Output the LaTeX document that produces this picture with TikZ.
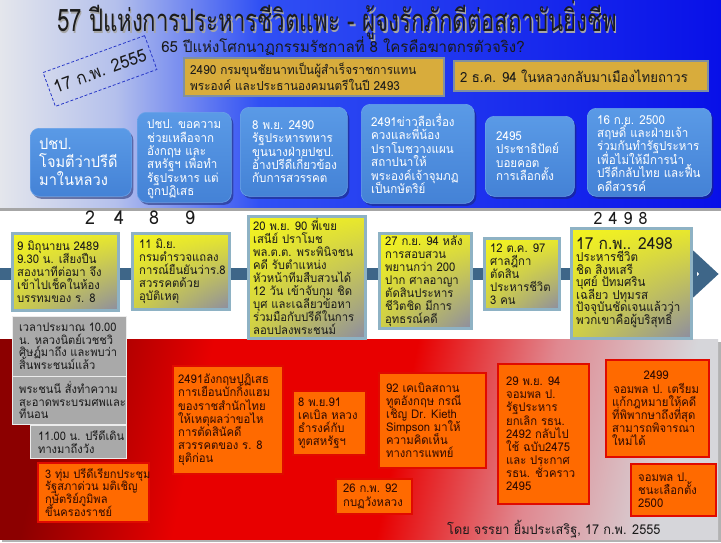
\documentclass[tikz,border=0pt]{standalone}
\usepackage{fontspec}
\setmainfont{Loma}[Script=Thai,FakeStretch=0.94]
\newfontfamily\condfont{Loma}[Script=Thai,FakeStretch=0.715]
\newfontfamily\subfont{Loma}[Script=Thai,FakeStretch=0.98]
\usetikzlibrary{shadings,shadows}

\definecolor{cTopGray}{HTML}{E4E6EC}
\definecolor{cTopLight}{HTML}{B4C0EC}
\definecolor{cTopMid}{HTML}{3050F4}
\definecolor{cTopBlue}{HTML}{0810E8}
\definecolor{cTitle}{HTML}{1C1C1C}
\definecolor{cBlueTop}{HTML}{5A9AE6}
\definecolor{cBlueBot}{HTML}{4482D6}
\definecolor{cBlueEdge}{HTML}{6AA2E8}
\definecolor{cShadow}{HTML}{1A2A70}
\definecolor{cGold}{HTML}{D8AC3C}
\definecolor{cGoldEdge}{HTML}{8090A0}
\definecolor{cYEdge}{HTML}{8EB2C4}
\definecolor{cYTL}{HTML}{F4F41E}
\definecolor{cYTR}{HTML}{E8E82C}
\definecolor{cYBL}{HTML}{CFCF46}
\definecolor{cYBR}{HTML}{8C8CA2}
\definecolor{cLine}{HTML}{3E6688}
\definecolor{cGrayBox}{HTML}{A9A9A9}
\definecolor{cOrange}{HTML}{FF6A00}
\definecolor{cOrEdge}{HTML}{E00A00}
\definecolor{cOrText}{HTML}{300A00}
\definecolor{cText}{HTML}{1A1A1A}
\definecolor{cRedDark}{HTML}{8C0000}
\definecolor{cRedMid}{HTML}{E80000}
\definecolor{cRedPink}{HTML}{E08890}
\definecolor{cRedLight}{HTML}{D6D6DA}
\definecolor{cDash}{HTML}{2838C8}

\pgfdeclarehorizontalshading{topbg}{100bp}{color(0bp)=(cTopGray); color(25bp)=(cTopGray); color(33bp)=(cTopLight); color(43bp)=(cTopMid); color(75bp)=(cTopBlue); color(100bp)=(cTopBlue)}
\pgfdeclarehorizontalshading{redbg}{100bp}{color(0bp)=(cRedDark); color(25bp)=(cRedDark); color(37bp)=(cRedMid); color(53bp)=(cRedMid); color(64bp)=(cRedPink); color(75bp)=(cRedLight); color(100bp)=(cRedLight)}

\newcommand\tightlines{\lineskiplimit=-100pt\lineskip=0pt}

\begin{document}
\begin{tikzpicture}[x=1pt,y=-1pt,
  bluebox/.style={rectangle, rounded corners=9pt, top color=cBlueTop, bottom color=cBlueBot,
    draw=cBlueEdge, line width=0.6pt, anchor=north west, inner sep=0pt,
    drop shadow={shadow xshift=2pt, shadow yshift=-2.5pt, fill=cShadow, opacity=0.55}},
  bluetext/.style={text=white, align=left, anchor=west, inner sep=0pt, font=\fontsize{12.3}{13.4}\selectfont\tightlines},
  goldbox/.style={rectangle, fill=cGold, draw=cGoldEdge, line width=1.5pt, anchor=north west, inner sep=0pt},
  goldtext/.style={text=cText, align=left, anchor=west, inner sep=0pt},
  ybox/.style={rectangle, lower left=cYBL, upper left=cYTL, upper right=cYTR, lower right=cYBR,
    draw=cYEdge, line width=3pt, anchor=north west, inner sep=0pt},
  ytext/.style={text=cText, align=left, anchor=west, inner sep=0pt, font=\fontsize{12}{13}\selectfont\tightlines},
  graybox/.style={rectangle, fill=cGrayBox, draw=white!85!gray, line width=0.8pt, anchor=north west, inner sep=0pt},
  graytext/.style={text=cText, align=left, anchor=west, inner sep=0pt, font=\fontsize{11.8}{12.5}\selectfont\tightlines},
  orbox/.style={rectangle, fill=cOrange, draw=cOrEdge, line width=1.8pt, anchor=north west, inner sep=0pt},
  ortext/.style={text=cOrText, align=left, anchor=west, inner sep=0pt, font=\fontsize{12}{13.1}\selectfont\tightlines},
  digit/.style={text=cText, font=\fontsize{19}{22}\selectfont, inner sep=0pt}]
\useasboundingbox (0,0) rectangle (721,542);
\fill[white] (0,0) rectangle (721,542);

% top band
\fill[black!35] (0,205) rectangle (721,211);
\shade[shading=topbg] (0,0) rectangle (721,207);

% bottom band
\fill[black!30] (2,342) rectangle (721,542);
\shade[shading=redbg, shading angle=-12] (0,339) rectangle (718,539);

% title
\node[font=\condfont\fontsize{31}{36}\selectfont, text=black!35, inner sep=0pt] (titleshadow) at (338.5,21.5) {57 ปีแห่งการประหารชีวิตแพะ - ผู้จงรักภักดีต่อสถาบันยิ่งชีพ};
\node[font=\condfont\fontsize{31}{36}\selectfont, text=cTitle, inner sep=0pt] (title) at (337,20) {57 ปีแห่งการประหารชีวิตแพะ - ผู้จงรักภักดีต่อสถาบันยิ่งชีพ};
\node[font=\subfont\fontsize{15.3}{17}\selectfont, text=cText, inner sep=0pt] (subtitle) at (343,46) {65 ปีแห่งโศกนาฏกรรมรัชกาลที่ 8  ใครคือฆาตกรตัวจริง?};

\node[draw=cDash, dash pattern=on 3pt off 2pt, line width=0.8pt, rotate=20, minimum width=108pt,
  minimum height=36pt, font=\fontsize{17.5}{20}\selectfont, text=cText] (date) at (100,71) {17 ก.พ. 2555};

% gold boxes
\node[goldbox, minimum width=260pt, minimum height=38pt] (g1) at (183,57) {};
\node[goldtext, font=\fontsize{12.5}{15.5}\selectfont\tightlines] (g1t) at ([xshift=7pt]g1.west)
  {2490 กรมขุนชัยนาทเป็นผู้สำเร็จราชการแทน\\พระองค์ และประธานองคมนตรีในปี  2493};
\node[goldbox, minimum width=254pt, minimum height=30pt] (g2) at (453,60) {};
\node[goldtext, font=\fontsize{14}{16}\selectfont] (g2t) at ([xshift=7pt]g2.west)
  {2 ธ.ค. 94 ในหลวงกลับมาเมืองไทยถาวร};

% blue rounded boxes
\node[bluebox, minimum width=101pt, minimum height=68pt] (b1) at (30,128) {};
\node[bluetext, font=\fontsize{15.5}{18}\selectfont\tightlines] (b1t) at ([xshift=9pt]b1.west)
  {ปชป.\\โจมตีว่าปรีดี\\มาในหลวง};
\node[bluebox, minimum width=94pt, minimum height=90pt] (b2) at (137,112) {};
\node[bluetext] (b2t) at ([xshift=10pt,yshift=-2pt]b2.west)
  {ปชป. ขอความ\\ช่วยเหลือจาก\\อังกฤษ และ\\สหรัฐฯ เพื่อทำ\\รัฐประหาร แต่\\ถูกปฏิเสธ};
\node[bluebox, minimum width=107pt, minimum height=89pt] (b3) at (240,107) {};
\node[bluetext] (b3t) at ([xshift=12pt]b3.west)
  {8 พ.ย. 2490\\รัฐประหารทหาร\\ขุนนางฝ่ายปชป.\\อ้างปรีดีเกี่ยวข้อง\\กับการสวรรคต};
\node[bluebox, minimum width=113pt, minimum height=99pt] (b4) at (361,104) {};
\node[bluetext] (b4t) at ([xshift=10pt]b4.west)
  {2491ข่าวลือเรื่อง\\ควงและพี่น้อง\\ปราโมชวางแผน\\สถาปนาให้\\พระองค์เจ้าจุมภฏ\\เป็นกษัตริย์};
\node[bluebox, minimum width=89pt, minimum height=80pt] (b5) at (485,116) {};
\node[bluetext] (b5t) at ([xshift=11pt]b5.west)
  {2495\\ประชาธิปัตย์\\บอยคอต\\การเลือกตั้ง};
\node[bluebox, minimum width=124pt, minimum height=88pt] (b6) at (587,108) {};
\node[bluetext] (b6t) at ([xshift=10pt,yshift=-1pt]b6.west)
  {16 ก.ย. 2500\\สฤษดิ์ และฝ่ายเจ้า\\ร่วมกันทำรัฐประหาร\\เพื่อไม่ให้มีการนำ\\ปรีดีกลับไทย และฟื้น\\คดีสวรรค์};

% digits
\node[digit] (d2) at (90,218) {2};
\node[digit] (d4) at (119,218) {4};
\node[digit] (d8) at (154,218) {8};
\node[digit] (d9) at (190,218) {9};
\node[digit, font=\fontsize{17}{20}\selectfont] (e2) at (598,218) {2};
\node[digit, font=\fontsize{17}{20}\selectfont] (e4) at (613,218) {4};
\node[digit, font=\fontsize{17}{20}\selectfont] (e9) at (628,218) {9};
\node[digit, font=\fontsize{17}{20}\selectfont] (e8) at (643,218) {8};

% timeline
\fill[cLine] (0,268) rectangle (697,280);
\draw[cLine, line width=13pt, line join=miter] (682,249) -- (709,274) -- (682,299);

% yellow boxes
\node[ybox, minimum width=106pt, minimum height=77pt] (y1) at (11,232) {};
\node[ytext] (y1t) at ([xshift=6pt]y1.west)
  {9 มิถุนายน 2489\\9.30 น. เสียงปืน\\สองนาทีต่อมา จึง\\เข้าไปเช็คในห้อง\\บรรทมของ ร. 8};
\node[ybox, minimum width=97pt, minimum height=76pt] (y2) at (131,232) {};
\node[ytext] (y2t) at ([xshift=8pt]y2.west)
  {11 มิ.ย.\\กรมตำรวจแถลง\\การณ์ยืนยันว่าร.8\\สวรรคตด้วย\\อุบัติเหตุ};
\node[ybox, minimum width=117pt, minimum height=122pt] (y3) at (247,215) {};
\node[ytext] (y3t) at ([xshift=6pt,yshift=1pt]y3.west)
  {20 พ.ย. 90  พี่เขย\\เสนีย์ ปราโมช\\พล.ต.ต. พระพินิจชน\\คดี  รับตำแหน่ง\\หัวหน้าทีมสืบสวนได้\\12 วัน เข้าจับกุม ชิด\\บุศ และเฉลียวข้อหา\\ร่วมมือกับปรีดีในการ\\ลอบปลงพระชนม์};
\node[ybox, minimum width=92pt, minimum height=95pt] (y4) at (378,232) {};
\node[ytext] (y4t) at ([xshift=7pt]y4.west)
  {27 ก.ย. 94 หลัง\\การสอบสวน\\พยานกว่า 200\\ปาก ศาลอาญา\\ตัดสินประหาร\\ชีวิตชิด มีการ\\อุทธรณ์คดี};
\node[ybox, minimum width=75pt, minimum height=71pt] (y5) at (483,237) {};
\node[ytext] (y5t) at ([xshift=7pt]y5.west)
  {12 ต.ค. 97\\ศาลฎีกา\\ตัดสิน\\ประหารชีวิต\\3 คน};
\node[ybox, minimum width=120pt, minimum height=110pt] (y6) at (570,227) {};
\node[ytext, font=\fontsize{12.3}{12.5}\selectfont\tightlines] (y6t) at ([xshift=6pt,yshift=1pt]y6.west)
  {{\fontsize{16.5}{19}\selectfont 17 ก.พ.. 2498}\\ประหารชีวิต\\ชิด สิงหเสรี\\บุศย์ ปัทมศริน\\เฉลียว ปทุมรส\\ปัจจุบันชัดเจนแล้วว่า\\พวกเขาคือผู้บริสุทธิ์};

% gray boxes
\node[graybox, minimum width=114pt, minimum height=60pt] (k1) at (12,316) {};
\node[graytext] (k1t) at ([xshift=7pt]k1.west)
  {เวลาประมาณ 10.00\\น. หลวงนิตย์เวชชวิ\\ศิษฏ์มาถึง และพบว่า\\สิ้นพระชนม์แล้ว};
\node[graybox, minimum width=114pt, minimum height=48pt] (k2) at (12,376) {};
\node[graytext] (k2t) at ([xshift=7pt]k2.west)
  {พระชนนี สั่งทำความ\\สะอาดพระบรมศพและ\\ที่นอน};
\node[graybox, minimum width=96pt, minimum height=33pt] (k3) at (30,425) {};
\node[graytext] (k3t) at ([xshift=8pt]k3.west)
  {11.00 น. ปรีดีเดิน\\ทางมาถึงวัง};

% orange boxes
\node[orbox, minimum width=111pt, minimum height=59pt] (o1) at (37,462) {};
\node[ortext, font=\fontsize{11.8}{12.8}\selectfont\tightlines] (o1t) at ([xshift=8pt]o1.west)
  {3 ทุ่ม ปรีดีเรียกประชุม\\รัฐสภาด่วน มติเชิญ\\กษัตริย์ภูมิพล\\ขึ้นครองราชย์};
\node[orbox, minimum width=110pt, minimum height=108pt] (o2) at (172,365) {};
\node[ortext] (o2t) at ([xshift=6pt]o2.west)
  {2491อังกฤษปฏิเสธ\\การเยือนบักกิ้งแฮม\\ของราชสำนักไทย\\ให้เหตุผลว่าขอไห\\การตัดสินัคดี\\สวรรคตของ ร. 8\\ยุติก่อน};
\node[orbox, minimum width=73pt, minimum height=64pt] (o3) at (292,390) {};
\node[ortext] (o3t) at ([xshift=6pt]o3.west)
  {8 พ.ย.91\\เคเบิล หลวง\\ธำรงค์กับ\\ทูตสหรัฐฯ};
\node[orbox, minimum width=107pt, minimum height=95pt] (o4) at (378,372) {};
\node[ortext] (o4t) at ([xshift=8pt]o4.west)
  {92 เคเบิลสถาน\\ทูตอังกฤษ กรณี\\เชิญ Dr. Kieth\\Simpson มาให้\\ความคิดเห็น\\ทางการแพทย์};
\node[orbox, minimum width=76pt, minimum height=35pt] (o5) at (335,478) {};
\node[ortext] (o5t) at ([xshift=8pt]o5.west)
  {26 ก.พ. 92\\กบฏวังหลวง};
\node[orbox, minimum width=91pt, minimum height=140pt] (o6) at (497,363) {};
\node[ortext] (o6t) at ([xshift=9pt]o6.west)
  {29 พ.ย. 94\\จอมพล ป.\\รัฐประหาร\\ยกเลิก รธน.\\2492 กลับไป\\ใช้ ฉบับ2475\\และ ประกาศ\\รธน. ชั่วคราว\\2495};
\node[orbox, minimum width=103pt, minimum height=97pt] (o7) at (605,359) {};
\node[ortext] (o7t) at ([xshift=7pt]o7.west)
  {\makebox[88pt][c]{2499}\\\makebox[88pt][c]{จอมพล ป. เตรียม}\\แก้กฎหมายให้คดี\\ที่พิพากษาถึงที่สุด\\สามารถพิจารณา\\ใหม่ได้};
\node[orbox, minimum width=85pt, minimum height=52pt] (o8) at (630,463) {};
\node[ortext] (o8t) at ([xshift=8pt]o8.west)
  {จอมพล ป.\\ชนะเลือกตั้ง\\2500};

% footer
\node[anchor=west, text=cText, font=\fontsize{13.5}{16}\selectfont, inner sep=0pt] (footer) at (447,529)
  {โดย จรรยา ยิ้มประเสริฐ, 17 ก.พ. 2555};
\end{tikzpicture}
\end{document}
